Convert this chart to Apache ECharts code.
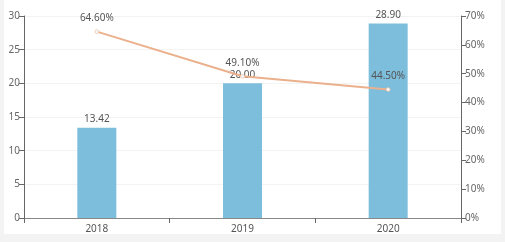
<!DOCTYPE html>
<html><head><meta charset="utf-8">
<script src="https://cdn.jsdelivr.net/npm/echarts@6/dist/echarts.min.js"></script>
<style>html,body{margin:0;padding:0;background:#f3f3f3;}#c{position:absolute;left:4px;top:0;width:497px;height:234px;background:#fff;}</style>
</head><body><div id="c"></div>
<script>
const categories = ['2018','2019','2020'];
const barValues = [13.42, 20.00, 28.90];
const lineValues = [64.6, 49.1, 44.5];
const chart = echarts.init(document.getElementById('c'));
const font = '"Microsoft YaHei","Noto Sans",sans-serif';
chart.setOption({
  animation:false,
  grid:{left:20,right:40,top:16,bottom:15},
  xAxis:{type:'category',data:categories,
    axisLine:{lineStyle:{color:'#888'}},axisTick:{show:true,alignWithLabel:false,lineStyle:{color:'#666'}},
    axisLabel:{color:'#555',fontSize:10,fontFamily:font,margin:6}},
  yAxis:[
    {type:'value',min:0,max:30,interval:5,
     axisLine:{show:true,lineStyle:{color:'#666'}},axisTick:{show:true,lineStyle:{color:'#666'}},
     axisLabel:{color:'#666',fontSize:10,fontFamily:font,margin:4},
     splitLine:{lineStyle:{color:'#f3f3f3'}}},
    {type:'value',min:0,max:70,interval:10,
     axisLine:{show:true,lineStyle:{color:'#666'}},axisTick:{show:true,lineStyle:{color:'#666'}},
     axisLabel:{color:'#666',fontSize:10,fontFamily:font,margin:4,formatter:'{value}%'},
     splitLine:{show:false}}
  ],
  series:[
    {type:'bar',data:barValues,barWidth:39,itemStyle:{color:'#7dbedc'},
     label:{show:true,position:'top',color:'#555',fontSize:10,fontFamily:font,distance:3,
       formatter:p=>p.value.toFixed(2)}},
    {type:'line',yAxisIndex:1,data:lineValues,symbol:'circle',symbolSize:4,
     lineStyle:{color:'#ebb08c',width:2},itemStyle:{color:'#f5f5f5',borderColor:'#ebb08c',borderWidth:0.5},
     label:{show:true,position:'top',color:'#555',fontSize:10,fontFamily:font,distance:6,
       formatter:p=>p.value.toFixed(2)+'%'}}
  ]
});
</script></body></html>
